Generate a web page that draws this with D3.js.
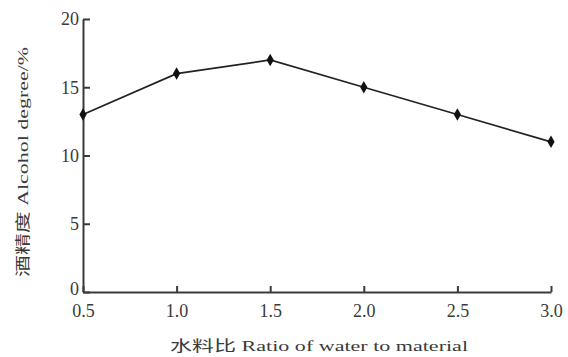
<!DOCTYPE html>
<html><head><meta charset="utf-8">
<script src="https://cdn.jsdelivr.net/npm/d3@7"></script>
<style>body{margin:0;background:#fff}</style>
</head><body>
<svg id="c" width="568" height="357"></svg>
<script>
const ratios = [0.5, 1.0, 1.5, 2.0, 2.5, 3.0];
const alcohol = [13, 16, 17, 15, 13, 11];
const xTicks = [0.5, 1.0, 1.5, 2.0, 2.5, 3.0];
const yTicks = [0, 5, 10, 15, 20];
const xTitle = "水料比 Ratio of water to material";
const yTitle = "酒精度 Alcohol degree/%";

const svg = d3.select("#c");
const font = "'Liberation Serif','Noto Sans CJK SC',serif";
const x = d3.scaleLinear().domain([0.5, 3.0]).range([83, 551]);
const y = d3.scaleLinear().domain([0, 20]).range([292, 19]);
const col = "#3a3a3a";

const xAxis = svg.append("g").attr("transform", "translate(0,292)")
  .call(d3.axisBottom(x).tickValues(xTicks).tickFormat(d3.format(".1f")).tickSizeInner(-6).tickSizeOuter(0).tickPadding(12));
const yAxis = svg.append("g").attr("transform", "translate(83,0)")
  .call(d3.axisLeft(y).tickValues(yTicks).tickFormat(d3.format("d")).tickSizeInner(-7).tickSizeOuter(0).tickPadding(5));
[xAxis, yAxis].forEach(g => {
  g.select(".domain").attr("stroke", col).attr("stroke-width", 2);
  g.selectAll(".tick line").attr("stroke", col).attr("stroke-width", 2);
  g.selectAll("text").attr("fill", col).attr("font-family", font).attr("font-size", 18);
});
yAxis.selectAll(".tick text").attr("x", -4).attr("dy", d => d === 0 ? "0.15em" : "0.32em");

const line = d3.line().x((d, i) => x(ratios[i])).y(d => y(d));
svg.append("path").datum(alcohol).attr("d", line)
  .attr("fill", "none").attr("stroke", "#222").attr("stroke-width", 1.7);
svg.selectAll(".m").data(alcohol).enter().append("path")
  .attr("transform", (d, i) => `translate(${x(ratios[i])},${y(d)})`)
  .attr("d", d3.symbol().type(d3.symbolDiamond).size(45))
  .attr("fill", "#111");

svg.append("text").attr("x", 319).attr("y", 351).attr("text-anchor", "middle")
  .attr("font-family", font).attr("font-size", 15).attr("fill", col)
  .attr("textLength", 298).attr("lengthAdjust", "spacingAndGlyphs").text(xTitle);
svg.append("text").attr("transform", "translate(28,162) rotate(-90)").attr("text-anchor", "middle")
  .attr("font-family", font).attr("font-size", 15).attr("fill", col)
  .attr("textLength", 230).attr("lengthAdjust", "spacingAndGlyphs").text(yTitle);
</script>
</body></html>
